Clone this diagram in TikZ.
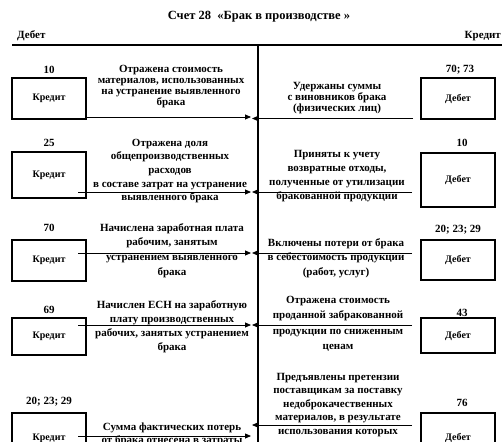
\documentclass[tikz,border=0pt]{standalone}
\usepackage{fontspec}
\setmainfont{Liberation Serif}
\usetikzlibrary{arrows.meta}
\tikzset{
  desc/.style={font=\fontsize{11}{#1}\selectfont\bfseries, align=center, inner sep=0pt},
  acct/.style={draw, line width=1.5pt, minimum width=74pt, inner sep=0pt},
  acctlbl/.style={font=\fontsize{10}{12}\selectfont\bfseries, inner sep=0pt},
  numlbl/.style={font=\fontsize{11}{12}\selectfont\bfseries, inner sep=0pt},
  head/.style={font=\fontsize{11}{12}\selectfont\bfseries, inner sep=0pt},
  flow/.style={line width=0.8pt, -{Triangle[length=6pt,width=5pt]}},
  axis/.style={line width=1.8pt}
}
\begin{document}
\begin{tikzpicture}[x=1pt,y=-1pt]
\useasboundingbox (0,0) rectangle (502,441);
\clip (0,0) rectangle (502,441);
% header
\node[font=\fontsize{12.5}{14}\selectfont\bfseries, inner sep=0pt] (title) at (259,17) {Счет 28\ \ «Брак в производстве »};
\node[head, anchor=west] (deb) at (17,36) {Дебет};
\node[head, anchor=east] (kred) at (501,36) {Кредит};
\coordinate (hl) at (12,45);
\coordinate (hr) at (502,45);
\coordinate (vt) at (258,45);
\coordinate (vb) at (258,445);
\draw[axis] (hl) -- (hr);
\draw[axis] (vt) -- (vb);

% ---------- row 1
\node[acct, minimum height=41pt] (L1) at (49,98.5) {};
\node[acctlbl] at (L1.center) {Кредит};
\node[numlbl] (nL1) at (49,70) {10};
\node[desc=10.8] (tL1) at (171,86.5) {Отражена стоимость\\материалов, использованных\\на устранение выявленного\\брака};
\coordinate (aL1s) at (86,117);
\coordinate (aL1e) at (251,117);
\draw[flow] (aL1s) -- (aL1e);

\node[acct, minimum height=41pt] (R1) at (458,98.5) {};
\node[acctlbl] at (R1.center) {Дебет};
\node[numlbl] (nR1) at (460,70) {70; 73};
\node[desc=11] (tR1) at (337,98.5) {Удержаны суммы\\с виновников брака\\(физических лиц)};
\coordinate (aR1s) at (413,118.5);
\coordinate (aR1e) at (252,118.5);
\draw[flow] (aR1s) -- (aR1e);

% ---------- row 2
\node[acct, minimum height=46pt] (L2) at (49,175) {};
\node[acctlbl] at (L2.center) {Кредит};
\node[numlbl] (nL2) at (49,143) {25};
\node[desc=13.7] (tL2) at (170,171) {Отражена доля\\общепроизводственных\\расходов\\в составе затрат на устранение\\выявленного брака};
\coordinate (aL2s) at (78,192);
\coordinate (aL2e) at (251,192);
\draw[flow] (aL2s) -- (aL2e);

\node[acct, minimum height=54pt] (R2) at (458,180) {};
\node[acctlbl] at (R2.center) {Дебет};
\node[numlbl] (nR2) at (462,143) {10};
\node[desc=14] (tR2) at (337,176.5) {Приняты к учету\\возвратные отходы,\\полученные от утилизации\\бракованной продукции};
\coordinate (aR2s) at (412,192);
\coordinate (aR2e) at (252,192);
\draw[flow] (aR2s) -- (aR2e);

% ---------- row 3
\node[acct, minimum height=41pt] (L3) at (49,260.5) {};
\node[acctlbl] at (L3.center) {Кредит};
\node[numlbl] (nL3) at (49,228) {70};
\node[desc=14.7] (tL3) at (172,250.5) {Начислена заработная плата\\рабочим, занятым\\устранением выявленного\\брака};
\coordinate (aL3s) at (78,253);
\coordinate (aL3e) at (251,253);
\draw[flow] (aL3s) -- (aL3e);

\node[acct, minimum height=40pt] (R3) at (458,260) {};
\node[acctlbl] at (R3.center) {Дебет};
\node[numlbl] (nR3) at (458,230) {20; 23; 29};
\node[desc=14.5] (tR3) at (336,258) {Включены потери от брака\\в себестоимость продукции\\(работ, услуг)};
\coordinate (aR3s) at (412,253);
\coordinate (aR3e) at (252,253);
\draw[flow] (aR3s) -- (aR3e);

% ---------- row 4
\node[acct, minimum height=37pt] (L4) at (49,336.5) {};
\node[acctlbl] at (L4.center) {Кредит};
\node[numlbl] (nL4) at (49,310) {69};
\node[desc=14] (tL4) at (172,326.5) {Начислен ЕСН на заработную\\плату производственных\\рабочих, занятых устранением\\брака};
\coordinate (aL4s) at (78,325);
\coordinate (aL4e) at (251,325);
\draw[flow] (aL4s) -- (aL4e);

\node[acct, minimum height=35pt] (R4) at (458,335.5) {};
\node[acctlbl] at (R4.center) {Дебет};
\node[numlbl] (nR4) at (462,313) {43};
\node[desc=15.5] (tR4) at (338,324) {Отражена стоимость\\проданной забракованной\\продукции по сниженным\\ценам};
\coordinate (aR4s) at (412,325);
\coordinate (aR4e) at (252,325);
\draw[flow] (aR4s) -- (aR4e);

% ---------- row 5
\node[acct, minimum height=50pt] (L5) at (49,438) {};
\node[acctlbl] at (L5.center) {Кредит};
\node[numlbl] (nL5) at (49,402) {20; 23; 29};
\node[desc=13] (tL5) at (172,434.5) {Сумма фактических потерь\\от брака отнесена в затраты};
\coordinate (aL5s) at (78,436);
\coordinate (aL5e) at (251,436);
\draw[flow] (aL5s) -- (aL5e);

\node[acct, minimum height=50pt] (R5) at (458,438) {};
\node[acctlbl] at (R5.center) {Дебет};
\node[numlbl] (nR5) at (462,403) {76};
\node[desc=13.5] (tR5) at (338,405) {Предъявлены претензии\\поставщикам за поставку\\недоброкачественных\\материалов, в результате\\использования которых};
\coordinate (aR5s) at (412,425);
\coordinate (aR5e) at (252,425);
\draw[flow] (aR5s) -- (aR5e);
\end{tikzpicture}
\end{document}
